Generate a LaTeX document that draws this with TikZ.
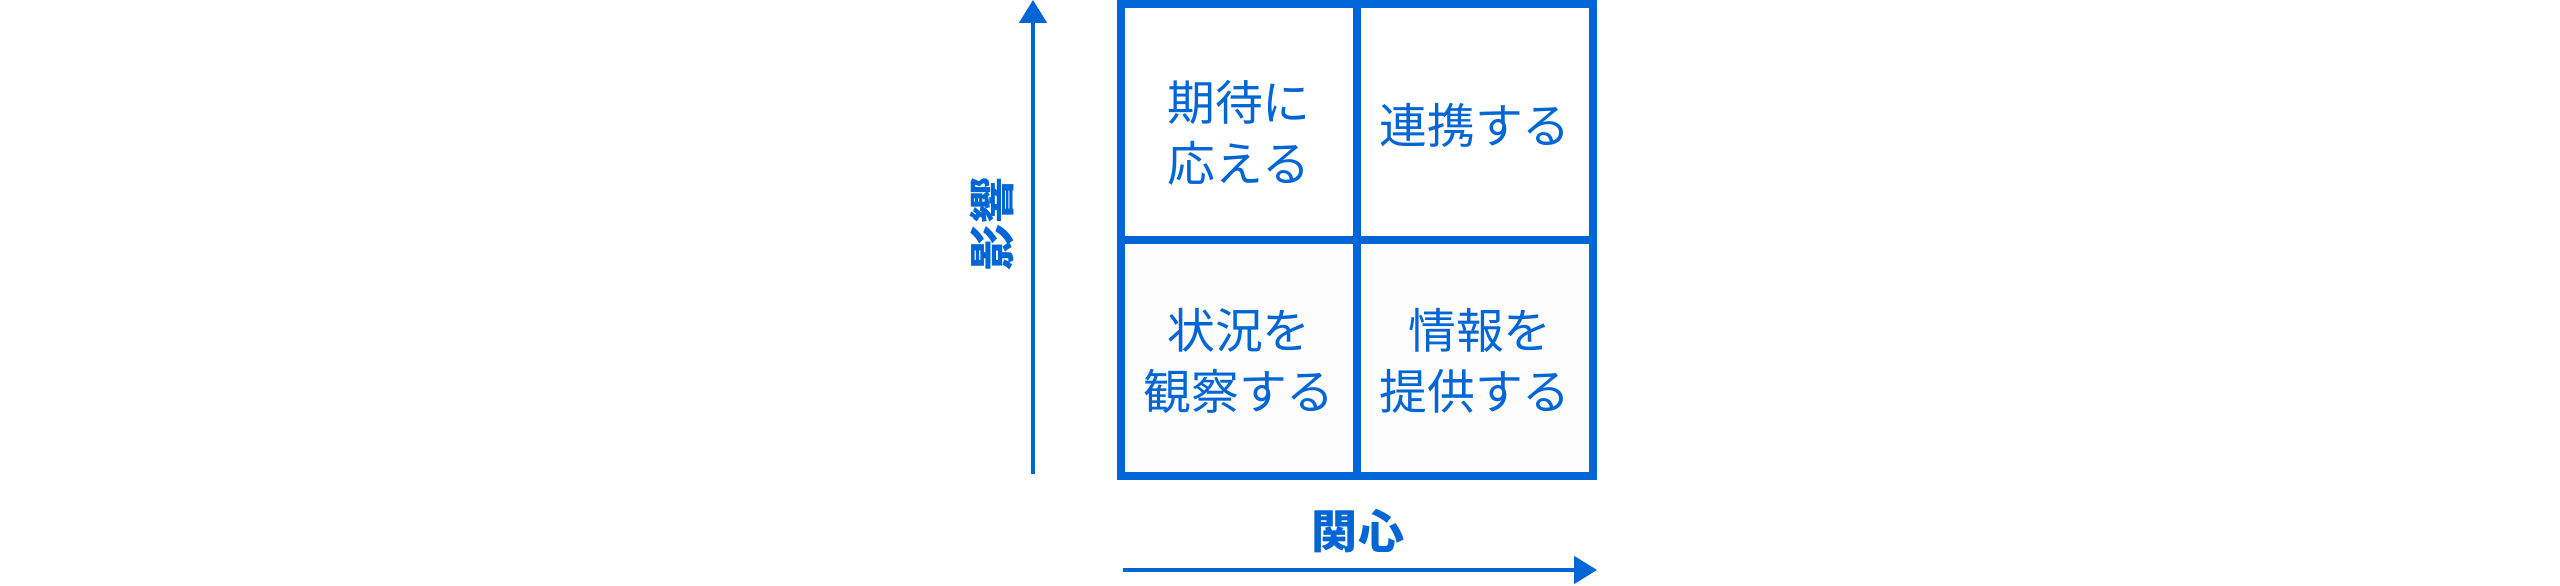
\documentclass[tikz,border=0pt]{standalone}
\usepackage{fontspec}
\usepackage{tikz}
\usetikzlibrary{arrows.meta, positioning}
\newfontfamily\jpfont{Noto Sans CJK JP}
\definecolor{gridblue}{HTML}{0066D6}
\definecolor{cellgray}{HTML}{FCFCFC}

\begin{document}
\begin{tikzpicture}[x=0.01cm, y=-0.01cm,
        cell/.style={draw=gridblue, line width=2.28pt, minimum width=2.36cm, minimum height=2.36cm, inner sep=0pt},
        celltext/.style={align=center, text=gridblue, inner sep=0pt,
            font=\jpfont\fontsize{13.6pt}{17.2pt}\selectfont},
        axislabel/.style={text=gridblue, inner sep=0pt, font=\jpfont\bfseries\fontsize{13.1pt}{16pt}\selectfont},
        axis/.style={draw=gridblue, line width=1.14pt, -{Triangle[length=6.5pt, width=7.7pt]}}]
        \useasboundingbox (0,0) rectangle (2560,586);

        % the four cells
        \node[cell, fill=cellgray] (Observe) at (1239,358) {};
        \node[cell, fill=cellgray] (Inform) at (1475,358) {};
        \node[cell] (Expect) at (1239,122) {};
        \node[cell] (Collab) at (1475,122) {};

        \node[celltext] (ExpectText) at ([yshift=-0.11cm]Expect.center) {期待に\\応える};
        \node[celltext] (CollabText) at ([yshift=-0.03cm]Collab.center) {連携する};
        \node[celltext] (ObserveText) at ([yshift=-0.03cm]Observe.center) {状況を\\観察する};
        \node[celltext] (InformText) at ([yshift=-0.03cm]Inform.center) {\hspace*{0.1cm}情報を\\提供する};

        \node[axislabel, rotate=90] (Influence) at (992,224) {影響};
        \node[axislabel] (Interest) at (1358,531) {関心};

        % axes
        \coordinate (YFrom) at (1033,474);
        \coordinate (YTo) at (1033,0);
        \coordinate (XFrom) at (1123,570);
        \coordinate (XTo) at (1597,570);
        \draw[axis] (YFrom) -- (YTo);
        \draw[axis] (XFrom) -- (XTo);
    \end{tikzpicture}
\end{document}
